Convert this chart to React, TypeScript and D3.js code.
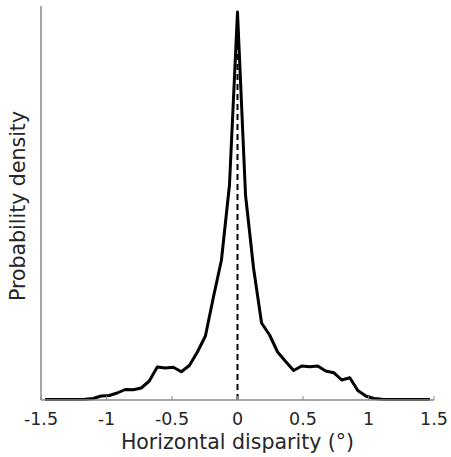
import React from "react";
import * as d3 from "d3";

const binEdgesRange = [-1.5, 1.5];
const density = [
  0.005, 0.005, 0.005, 0.005, 0.005, 0.007, 0.015, 0.04, 0.045, 0.07,
  0.105, 0.103, 0.12, 0.19, 0.33, 0.32, 0.327, 0.283, 0.345, 0.48,
  0.64, 1.03, 1.4, 2.15, 3.88, 2.05, 1.32, 0.77, 0.65, 0.48,
  0.385, 0.295, 0.34, 0.333, 0.34, 0.29, 0.273, 0.2, 0.223, 0.095,
  0.04, 0.015, 0.007, 0.005, 0.005, 0.005, 0.005, 0.005, 0.005,
];
const xTicks = [-1.5, -1, -0.5, 0, 0.5, 1, 1.5];
const xTickLabels = ["-1.5", "-1", "-0.5", "0", "0.5", "1", "1.5"];
const xLabel = "Horizontal disparity (°)";
const yLabel = "Probability density";

const W = 451, H = 457;
const left = 41, right = 434, top = 6, bottom = 400;

export default function App() {
  const n = density.length;
  const w = (binEdgesRange[1] - binEdgesRange[0]) / n;
  const centers = density.map((_, i) => binEdgesRange[0] + w / 2 + i * w);
  const x = d3.scaleLinear().domain([-1.5, 1.5]).range([left, right]);
  const y = d3.scaleLinear().domain([0, 3.94]).range([bottom, top]);
  const line = d3
    .line<number>()
    .x((_, i) => x(centers[i]))
    .y((d) => y(d));
  const peak = d3.max(density) as number;
  const font = "DejaVu Sans, sans-serif";
  const axisColor = "#8a8a8a";
  return (
    <svg width={W} height={H} style={{ position: "absolute", left: 0, top: 0, background: "#fff" }}>
      <line x1={x(0)} x2={x(0)} y1={y(0)} y2={y(peak)} stroke="#000" strokeWidth={2} strokeDasharray="6,4" />
      <path d={line(density) || ""} fill="none" stroke="#000" strokeWidth={3} strokeLinejoin="round" />
      <line x1={left} x2={left} y1={top} y2={bottom} stroke={axisColor} strokeWidth={1.5} />
      <line x1={left} x2={right} y1={bottom} y2={bottom} stroke={axisColor} strokeWidth={1.5} />
      {xTicks.map((t, i) => (
        <g key={i}>
          <line x1={x(t)} x2={x(t)} y1={bottom} y2={bottom - 4} stroke={axisColor} strokeWidth={1} />
          <text x={x(t)} y={425} textAnchor="middle" fontFamily={font} fontSize={17.5} fill="#262626">
            {xTickLabels[i]}
          </text>
        </g>
      ))}
      <text x={(left + right) / 2} y={449} textAnchor="middle" fontFamily={font} fontSize={20.5} fill="#262626">
        {xLabel}
      </text>
      <text
        transform={`translate(25, 206) rotate(-90)`}
        textAnchor="middle"
        fontFamily={font}
        fontSize={20.5}
        fill="#262626"
      >
        {yLabel}
      </text>
    </svg>
  );
}
